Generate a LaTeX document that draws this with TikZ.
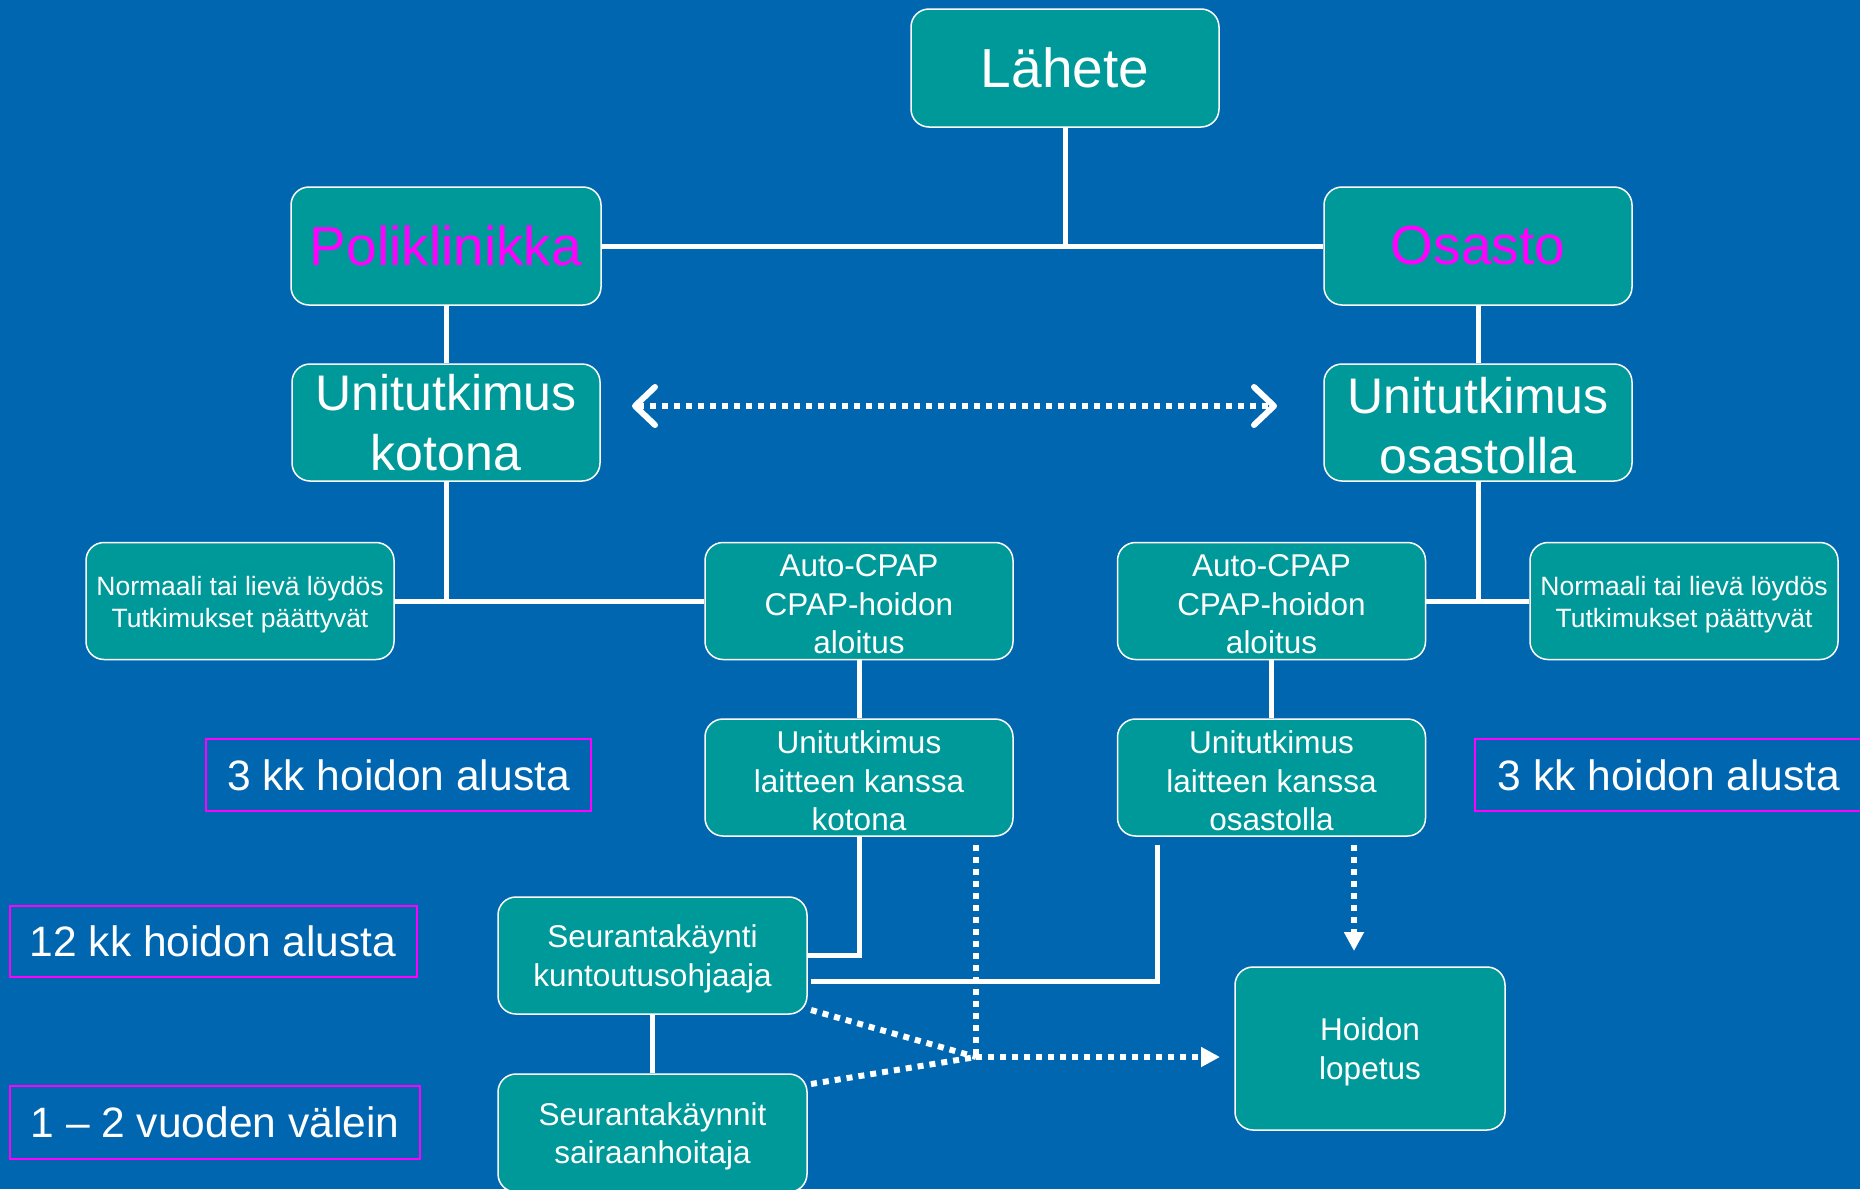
\documentclass[tikz,border=0pt]{standalone}
\usepackage{fontspec}
\setmainfont{Liberation Sans}
\usetikzlibrary{arrows.meta}
\definecolor{bgblue}{RGB}{0,102,176}
\definecolor{boxteal}{RGB}{0,153,153}
\definecolor{mag}{RGB}{255,0,255}
\newcommand{\dn}[1]{\raisebox{-3.5pt}[\height][\depth]{#1}}
\begin{document}
\begin{tikzpicture}[x=1pt,y=-1pt,
  box/.style={draw=white,line width=1.5pt,fill=boxteal,rounded corners=18pt,text=white,align=center,inner sep=0pt,minimum width=308pt,minimum height=117pt},
  bigtxt/.style={font=\fontsize{55}{66}\selectfont},
  midtxt/.style={font=\fontsize{50}{60}\selectfont},
  smltxt/.style={font=\fontsize{31.5}{38.5}\selectfont},
  tinytxt/.style={font=\fontsize{26.5}{32}\selectfont},
  lab/.style={draw=mag,line width=2pt,text=white,font=\fontsize{42.5}{50}\selectfont,inner sep=0pt,minimum height=72pt},
  conn/.style={draw=white,line width=5pt},
  dots/.style={draw=white,line width=6pt,dash pattern=on 6pt off 6pt},
  tri/.style={-{Triangle[length=19pt,width=19pt]}},
]
\fill[bgblue] (0,0) rectangle (1860,1189);
\useasboundingbox (0,0) rectangle (1860,1189);

% boxes
\node[box,bigtxt,minimum height=118pt] (lahete) at (1065,68) {Lähete};
\node[box,bigtxt,minimum width=310pt,minimum height=118pt,text=mag] (poli) at (446,246) {Poliklinikka};
\node[box,bigtxt,minimum height=118pt,text=mag] (osasto) at (1478,246) {Osasto};
\node[box,midtxt] (ukot) at (446,422.5) {Unitutkimus\\kotona};
\node[box,midtxt] (uosa) at (1478,422.5) {\dn{Unitutkimus}\\\dn{osastolla}};
\node[box,tinytxt] (norm1) at (240,601) {\dn{Normaali tai lievä löydös}\\\dn{Tutkimukset päättyvät}};
\node[box,smltxt] (cpap1) at (859,601) {\dn{Auto-CPAP}\\\dn{CPAP-hoidon}\\\dn{aloitus}};
\node[box,smltxt] (cpap2) at (1271.5,601) {\dn{Auto-CPAP}\\\dn{CPAP-hoidon}\\\dn{aloitus}};
\node[box,tinytxt] (norm2) at (1684,601) {\dn{Normaali tai lievä löydös}\\\dn{Tutkimukset päättyvät}};
\node[box,smltxt] (ulk) at (859,777.5) {\dn{Unitutkimus}\\\dn{laitteen kanssa}\\\dn{kotona}};
\node[box,smltxt] (ulo) at (1271.5,777.5) {\dn{Unitutkimus}\\\dn{laitteen kanssa}\\\dn{osastolla}};
\node[box,smltxt,minimum width=309pt] (seur1) at (652.5,955.5) {\dn{Seurantakäynti}\\\dn{kuntoutusohjaaja}};
\node[box,smltxt,minimum width=309pt,minimum height=118pt] (seur2) at (652.5,1133) {\dn{Seurantakäynnit}\\\dn{sairaanhoitaja}};
\node[box,smltxt,minimum width=270pt,minimum height=163pt] (hoid) at (1370,1048.5) {\dn{Hoidon}\\\dn{lopetus}};

% magenta labels
\node[lab,minimum width=385pt] (k3a) at (398.5,775) {3 kk hoidon alusta};
\node[lab,minimum width=388pt] (k3b) at (1669,775) {3 kk hoidon alusta};
\node[lab,minimum width=407pt,minimum height=71pt] (k12) at (213,941.5) {12 kk hoidon alusta};
\node[lab,minimum width=410pt,minimum height=73pt] (v12) at (215,1122.5) {1 -- 2 vuoden välein};

% solid connectors
\draw[conn] (lahete.south) -- (lahete.south |- poli.east);
\draw[conn] (poli.east) -- (osasto.west);
\draw[conn] (poli.south) -- (ukot.north);
\draw[conn] (osasto.south) -- (uosa.north);
\draw[conn] (ukot.south) -- (ukot.south |- norm1.east);
\draw[conn] (norm1.east) -- (cpap1.west);
\draw[conn] (uosa.south) -- (uosa.south |- cpap2.east);
\draw[conn] (cpap2.east) -- (norm2.west);
\draw[conn] (cpap1.south) -- (ulk.north);
\draw[conn] (cpap2.south) -- (ulo.north);
\draw[conn] (ulk.south) -- (ulk.south |- seur1.east) -- (seur1.east);
\coordinate (uloout) at (1157,845);
\coordinate (seurin) at (811,981);
\draw[conn] (uloout) -- (uloout |- seurin) -- (seurin);
\draw[conn] (seur1.south) -- (seur2.north);

% dotted connectors
\coordinate (dl) at (632,406);
\coordinate (dr) at (1277,406);
\draw[dots,{Straight Barb[length=20pt,width=38pt,round]}-{Straight Barb[length=20pt,width=38pt,round]}] (dl) -- (dr);
\coordinate (ulkout) at (976,845);
\coordinate (junc) at (976,1057);
\coordinate (s1c) at (811,1010);
\coordinate (s2c) at (811,1084);
\coordinate (hoidin) at (1220,1057);
\draw[dots] (ulkout) -- (junc);
\draw[dots] (s1c) -- (junc);
\draw[dots] (s2c) -- (junc);
\draw[dots,tri] (junc) -- (hoidin);
\coordinate (ulodot) at (1354,845);
\coordinate (hoidtop) at (1354,951);
\draw[dots,tri] (ulodot) -- (hoidtop);
\end{tikzpicture}
\end{document}
